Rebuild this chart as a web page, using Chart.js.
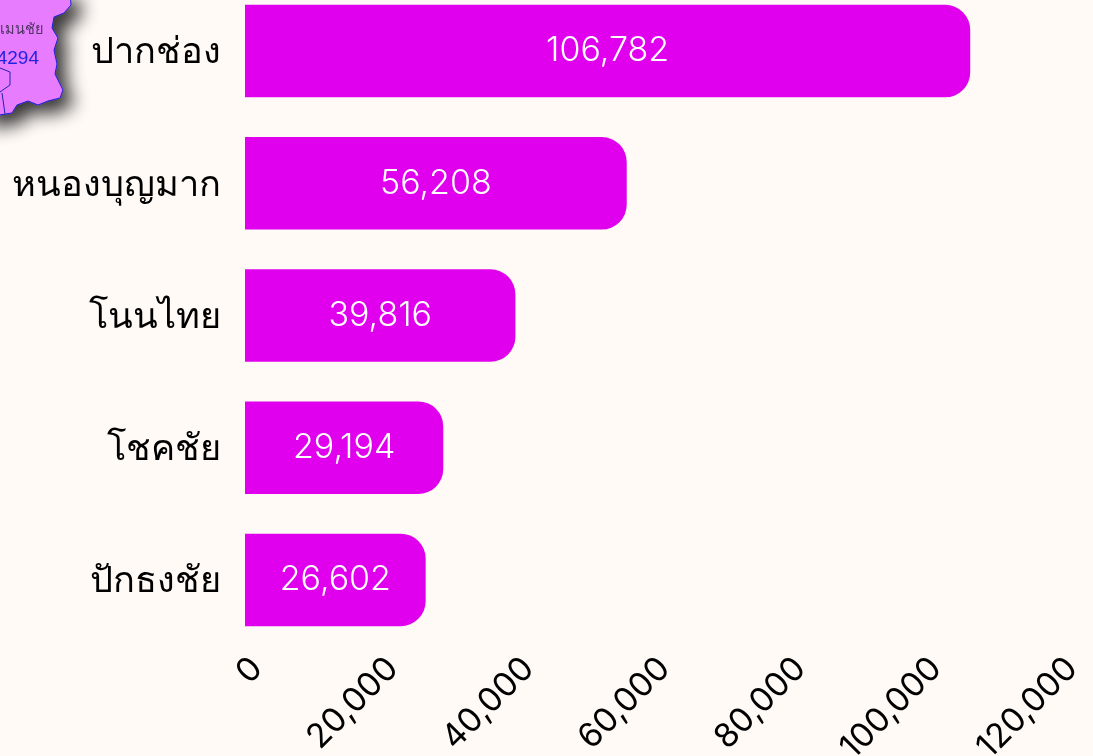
<!DOCTYPE html>
<html><head><meta charset="utf-8">
<style>
html,body{margin:0;padding:0;background:#fffaf6;width:1093px;height:756px;overflow:hidden}
#wrap{position:absolute;left:0;top:-62px;width:1093px;height:818px}
#map{position:absolute;left:0;top:0;z-index:2}
</style>
<script src="https://cdn.jsdelivr.net/npm/chart.js@4"></script>
</head><body>
<div id="wrap"><canvas id="c" width="1093" height="818"></canvas></div>
<svg id="map" width="110" height="150" viewBox="0 0 110 150">
<defs><filter id="s" x="-30%" y="-30%" width="180%" height="180%">
<feGaussianBlur in="SourceAlpha" stdDeviation="9"/><feOffset dx="10" dy="10"/>
<feComponentTransfer><feFuncA type="linear" slope="0.78"/></feComponentTransfer>
<feMerge><feMergeNode/><feMergeNode in="SourceGraphic"/></feMerge></filter></defs>
<path filter="url(#s)" d="M-20 -10L70 -10L71 5L64 13L54 17L52 28L58 38L54 50L57 64L55 74L63 90L60 98L48 101L38 105L28 101L17 105L12 113L-20 118Z" fill="#e77cff" stroke="#1f1fd0" stroke-width="1"/>
<path d="M0 68L10 72L10 85L0 92M2 93L5 114" fill="none" stroke="#2a1fb0" stroke-width="1"/>
<text x="43" y="34" text-anchor="end" font-family="'Noto Sans',sans-serif" font-size="14.5" fill="#4f3560">ะเมนชัย</text>
<text x="39" y="64" text-anchor="end" font-family="'Liberation Sans',sans-serif" font-size="19" fill="#2323e0">4294</text>
</svg>
<script>
const categories = ['ปากช่อง','หนองบุญมาก','โนนไทย','โชคชัย','ปักธงชัย'];
const values = [106782,56208,39816,29194,26602];
const tickValues = [0,20000,40000,60000,80000,100000,120000];
const fmt = v => v.toLocaleString('en-US');
const barLabels = {
  id:'barLabels',
  afterDatasetsDraw(chart){
    const ctx=chart.ctx, x=chart.scales.x;
    ctx.save();
    ctx.fillStyle='#fff';ctx.font='350 34px Inter, sans-serif';ctx.textAlign='center';ctx.textBaseline='middle';
    chart.getDatasetMeta(0).data.forEach((b,i)=>{
      ctx.fillText(fmt(values[i]),(x.getPixelForValue(0)+b.x)/2,b.y);
    });
    ctx.restore();
  }
};
new Chart(document.getElementById('c'),{
  type:'bar',
  data:{labels:categories,datasets:[{data:values,backgroundColor:'#e000ee',
    borderRadius:{topRight:25,bottomRight:25,topLeft:0,bottomLeft:0},borderSkipped:false,
    barPercentage:0.7,categoryPercentage:1}]},
  options:{
    indexAxis:'y',responsive:false,animation:false,
    layout:{padding:{top:0,right:33,bottom:0,left:0}},
    plugins:{legend:{display:false},tooltip:{enabled:false}},
    scales:{
      x:{min:0,max:120000,position:'bottom',grid:{display:false,drawTicks:false},border:{display:false},
        afterBuildTicks(s){s.ticks=tickValues.map(v=>({value:v}));},
        afterFit(s){s.height=110;s.paddingRight=0;s.paddingLeft=0;},
        ticks:{minRotation:45,maxRotation:45,color:'#000',padding:3,labelOffset:12,font:{family:'Inter, sans-serif',size:33.5},callback:v=>fmt(v)}},
      y:{grid:{display:false,drawTicks:false},border:{display:false},
        afterFit(s){s.width=245;s.paddingTop=47;s.paddingBottom=0;},
        ticks:{color:'#000',padding:24,labelOffset:2,font:{family:"'Noto Sans',sans-serif",size:36.2}}}
    }
  },
  plugins:[barLabels]
});
</script>
</body></html>
